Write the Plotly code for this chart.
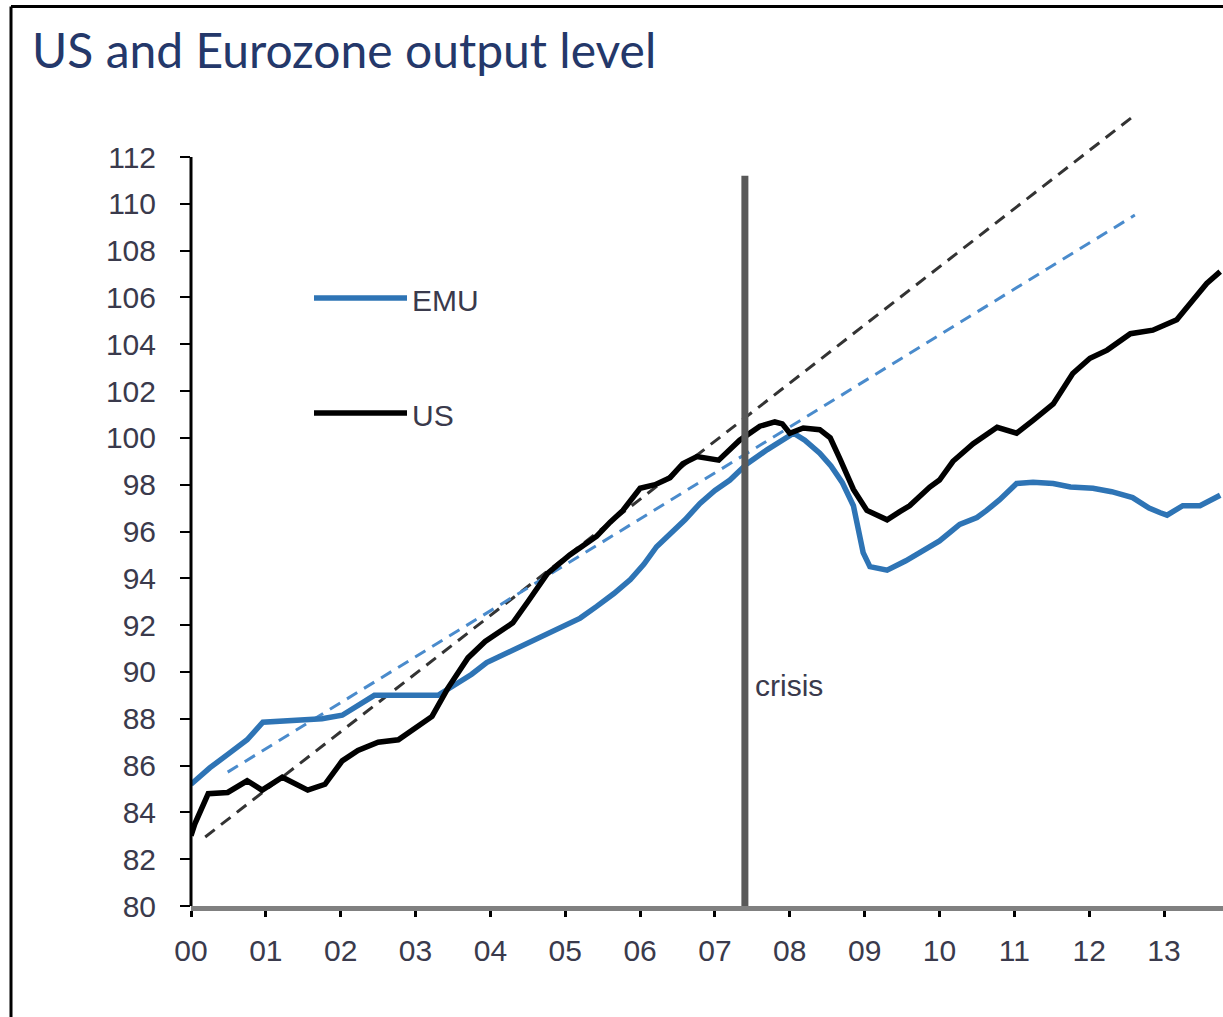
import plotly.graph_objects as go

# ---------------- data (years measured from 2000) ----------------
years_emu = [0.0, 0.25, 0.5, 0.75, 0.96, 1.25, 1.5, 1.75, 2.02, 2.25, 2.45, 2.75, 3.0, 3.3,
             3.5, 3.75, 3.95, 4.15, 4.4, 4.7, 4.97, 5.2, 5.42, 5.65, 5.87, 6.05, 6.22, 6.4,
             6.6, 6.8, 7.0, 7.2, 7.43, 7.7, 8.0, 8.05, 8.2, 8.4, 8.55, 8.7, 8.85, 8.98, 9.07,
             9.3, 9.55, 9.8, 10.0, 10.27, 10.5, 10.63, 10.8, 11.03, 11.25, 11.52, 11.75,
             12.05, 12.3, 12.58, 12.8, 12.95, 13.04, 13.25, 13.48, 13.75]
emu = [85.2, 85.9, 86.5, 87.1, 87.85, 87.9, 88.0, 88.0, 88.15, 88.6, 89.0, 89.0, 89.0, 89.0,
       89.4, 89.9, 90.4, 90.7, 91.1, 91.5, 91.9, 92.3, 92.8, 93.35, 93.95, 94.6, 95.35, 95.9,
       96.5, 97.2, 97.75, 98.2, 98.9, 99.5, 100.1, 100.2, 99.9, 99.35, 98.8, 98.1, 97.1, 95.1,
       94.5, 94.35, 94.75, 95.2, 95.6, 96.3, 96.6, 96.9, 97.35, 98.05, 98.1, 98.05, 97.9,
       97.85, 97.7, 97.45, 97.0, 96.8, 96.7, 97.1, 97.1, 97.55]

years_us = [0.0, 0.05, 0.23, 0.49, 0.75, 0.95, 1.22, 1.39, 1.56, 1.79, 2.02, 2.23, 2.5, 2.77,
            3.03, 3.22, 3.43, 3.7, 3.93, 4.15, 4.3, 4.5, 4.76, 5.06, 5.25, 5.42, 5.6, 5.77,
            6.0, 6.2, 6.4, 6.57, 6.76, 7.05, 7.33, 7.6, 7.8, 7.9, 8.0, 8.18, 8.4, 8.54, 8.67,
            8.85, 9.03, 9.3, 9.47, 9.6, 9.87, 10.0, 10.18, 10.45, 10.77, 11.03, 11.25, 11.52,
            11.78, 12.01, 12.24, 12.55, 12.85, 13.17, 13.39, 13.57, 13.75]
us = [83.0, 83.5, 84.8, 84.85, 85.35, 84.95, 85.5, 85.25, 84.95, 85.2, 86.2, 86.65, 87.0, 87.1,
      87.65, 88.1, 89.3, 90.6, 91.3, 91.8, 92.1, 93.0, 94.2, 95.0, 95.4, 95.8, 96.4, 96.9,
      97.85, 98.0, 98.3, 98.9, 99.2, 99.05, 99.9, 100.5, 100.68, 100.6, 100.2, 100.42, 100.35,
      100.0, 99.1, 97.8, 96.9, 96.5, 96.85, 97.1, 97.9, 98.2, 99.0, 99.75, 100.45, 100.2,
      100.75, 101.45, 102.75, 103.4, 103.75, 104.45, 104.6, 105.05, 105.9, 106.6, 107.1]

trend_years_emu = [0.49, 12.61]
trend_emu = [85.72, 109.52]
trend_years_us = [0.19, 12.61]
trend_us = [82.95, 113.79]

crisis_year = 7.40
crisis_top = 111.2

x_tick_vals = list(range(14))
x_tick_text = ["00", "01", "02", "03", "04", "05", "06", "07", "08", "09", "10", "11", "12", "13"]
y_tick_vals = list(range(80, 113, 2))

series_names = ["EMU", "US"]
title_text = "US and Eurozone output level"

# ---------------- layout geometry ----------------
W, H = 1223, 1017
ML, MR, MT, MB = 191, 0, 100, 111
PX_PER_YEAR = 74.85
PX_PER_UNIT = 23.406
plot_w = W - ML - MR
plot_h = H - MT - MB
x_range = [0, plot_w / PX_PER_YEAR]
y_range = [80, 80 + plot_h / PX_PER_UNIT]


def pxx(x):
    return (x - ML) / plot_w


def pxy(y):
    return (H - MB - y) / plot_h


BLUE = "#2e74b5"
TEXT = "#3a3a4c"
TICK_FONT = dict(family="Liberation Sans, Arial", size=30, color=TEXT)

fig = go.Figure()
fig.add_trace(go.Scatter(x=trend_years_us, y=trend_us, mode="lines",
                         line=dict(color="#333333", width=3, dash="12px,8px"),
                         hoverinfo="skip", showlegend=False))
fig.add_trace(go.Scatter(x=trend_years_emu, y=trend_emu, mode="lines",
                         line=dict(color="#4a8bcc", width=3, dash="12px,8px"),
                         hoverinfo="skip", showlegend=False))
fig.add_trace(go.Scatter(x=years_emu, y=emu, mode="lines", name=series_names[0],
                         line=dict(color=BLUE, width=5.5), showlegend=False))
fig.add_trace(go.Scatter(x=years_us, y=us, mode="lines", name=series_names[1],
                         line=dict(color="#000000", width=5.5), showlegend=False))

shapes = [
    # y axis line (stops at 112)
    dict(type="line", xref="paper", yref="y", x0=0, x1=0, y0=80, y1=112,
         line=dict(color="black", width=3)),
    # crisis line
    dict(type="line", xref="x", yref="y", x0=crisis_year, x1=crisis_year, y0=80, y1=crisis_top,
         line=dict(color="#595959", width=7)),
    # outer border
    dict(type="line", xref="paper", yref="paper", x0=pxx(11), x1=pxx(11), y0=pxy(1030), y1=pxy(6.5),
         line=dict(color="black", width=3)),
    dict(type="line", xref="paper", yref="paper", x0=pxx(11), x1=pxx(1240), y0=pxy(6.5), y1=pxy(6.5),
         line=dict(color="black", width=3)),
    # legend keys
    dict(type="line", xref="paper", yref="paper", x0=pxx(314), x1=pxx(407), y0=pxy(298), y1=pxy(298),
         line=dict(color=BLUE, width=5.5)),
    dict(type="line", xref="paper", yref="paper", x0=pxx(314), x1=pxx(407), y0=pxy(413), y1=pxy(413),
         line=dict(color="black", width=5.5)),
]

annotations = [
    dict(text=title_text, xref="paper", yref="paper", x=pxx(30), y=pxy(50),
         xanchor="left", yanchor="middle", showarrow=False,
         font=dict(family="Lato", size=48, color="#24386a")),
    dict(text=series_names[0], xref="paper", yref="paper", x=pxx(410), y=pxy(300),
         xanchor="left", yanchor="middle", showarrow=False, font=TICK_FONT),
    dict(text=series_names[1], xref="paper", yref="paper", x=pxx(410), y=pxy(415),
         xanchor="left", yanchor="middle", showarrow=False, font=TICK_FONT),
    dict(text="crisis", xref="x", yref="y", x=crisis_year, y=89.4, xshift=8,
         xanchor="left", yanchor="middle", showarrow=False, font=TICK_FONT),
]

fig.update_layout(
    width=W, height=H,
    margin=dict(l=ML, r=MR, t=MT, b=MB, pad=0),
    paper_bgcolor="white",
    plot_bgcolor="white",
    showlegend=False,
    shapes=shapes,
    annotations=annotations,
    xaxis=dict(range=x_range, tickmode="array", tickvals=x_tick_vals, ticktext=x_tick_text,
               ticks="outside", ticklen=6, tickwidth=3, tickcolor="black",
               showline=True, linecolor="#808080", linewidth=5,
               showgrid=False, zeroline=False, tickfont=TICK_FONT, ticklabelstandoff=8,
               fixedrange=True),
    yaxis=dict(range=y_range, tickmode="array", tickvals=y_tick_vals,
               ticks="outside", ticklen=10, tickwidth=2, tickcolor="black",
               showline=False, showgrid=False, zeroline=False, tickfont=TICK_FONT,
               ticklabelstandoff=18, fixedrange=True),
)

fig.write_html("out.html", config={"displayModeBar": False},
               post_script="document.body.style.margin='0';document.body.style.overflow='hidden';")
